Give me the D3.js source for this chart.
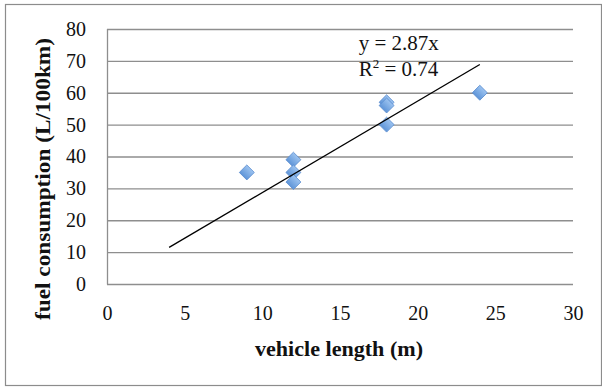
<!DOCTYPE html>
<html>
<head>
<meta charset="utf-8">
<script src="https://cdn.jsdelivr.net/npm/d3@7"></script>
<style>
  body { margin: 0; background: #fff; }
  svg { display: block; }
</style>
</head>
<body>
<div id="chart"></div>
<script>
// vehicle length (m) vs fuel consumption (L/100km)
const lengths = [9, 12, 12, 12, 18, 18, 18, 24];
const fuel = [35, 39, 35, 32, 57, 56, 50, 60];
const xTicks = [0, 5, 10, 15, 20, 25, 30];
const yTicks = [0, 10, 20, 30, 40, 50, 60, 70, 80];
const slope = 2.87;
const trendRange = [4, 24];

const width = 602;
const height = 387;
const margin = { top: 29, right: 29, bottom: 103, left: 107 };
const innerWidth = width - margin.left - margin.right;
const innerHeight = height - margin.top - margin.bottom;

const font = "'Liberation Serif', 'DejaVu Serif', serif";

const svg = d3
  .select("#chart")
  .append("svg")
  .attr("width", width)
  .attr("height", height);

// outer frame
svg
  .append("rect")
  .attr("x", 5.5)
  .attr("y", 4.5)
  .attr("width", 596)
  .attr("height", 381)
  .attr("fill", "#fff")
  .attr("stroke", "#8c8c8c")
  .attr("stroke-width", 1.2);

const xScale = d3.scaleLinear().domain([0, 30]).range([0, innerWidth]);
const yScale = d3.scaleLinear().domain([0, 80]).range([innerHeight, 0]);

const g = svg
  .append("g")
  .attr("transform", `translate(${margin.left},${margin.top})`);

// horizontal gridlines
g.append("g")
  .selectAll("line")
  .data(yTicks)
  .join("line")
  .attr("x1", 0)
  .attr("x2", innerWidth)
  .attr("y1", (d) => yScale(d) + 0.5)
  .attr("y2", (d) => yScale(d) + 0.5)
  .attr("stroke", "#8e8e8e")
  .attr("stroke-width", 1.3);

// left axis line
g.append("line")
  .attr("x1", 0.5)
  .attr("x2", 0.5)
  .attr("y1", 0)
  .attr("y2", innerHeight + 0.5)
  .attr("stroke", "#8e8e8e")
  .attr("stroke-width", 1.3);

const yAxis = d3.axisLeft(yScale).tickValues(yTicks).tickSize(0).tickPadding(21);
const yGroup = g.append("g").call(yAxis);
yGroup.select(".domain").remove();
yGroup
  .selectAll("text")
  .attr("font-family", font)
  .attr("font-size", 20)
  .attr("fill", "#111");

const xAxis = d3.axisBottom(xScale).tickValues(xTicks).tickSize(0).tickPadding(22);
const xGroup = g
  .append("g")
  .attr("transform", `translate(0,${innerHeight})`)
  .call(xAxis);
xGroup.select(".domain").remove();
xGroup
  .selectAll("text")
  .attr("font-family", font)
  .attr("font-size", 20)
  .attr("fill", "#111");

// diamond markers
const defs = svg.append("defs");
const grad = defs
  .append("linearGradient")
  .attr("id", "dia")
  .attr("x1", 0)
  .attr("y1", 0)
  .attr("x2", 0)
  .attr("y2", 1);
grad.append("stop").attr("offset", "0%").attr("stop-color", "#9cc3f0");
grad.append("stop").attr("offset", "100%").attr("stop-color", "#5f95d8");

const points = lengths.map((d, i) => ({ x: d, y: fuel[i] }));

g.append("g")
  .selectAll("path")
  .data(points)
  .join("path")
  .attr("d", d3.symbol(d3.symbolSquare, 112))
  .attr("transform", (d) => `translate(${xScale(d.x)},${yScale(d.y)}) rotate(45)`)
  .attr("fill", "url(#dia)")
  .attr("stroke", "#5a8cd0")
  .attr("stroke-width", 0.8);

// linear trendline through origin
const trend = trendRange.map((x) => [x, slope * x]);
g.append("path")
  .datum(trend)
  .attr("d", d3.line().x((d) => xScale(d[0])).y((d) => yScale(d[1])))
  .attr("fill", "none")
  .attr("stroke", "#000")
  .attr("stroke-width", 1.3);

// equation label
const eq = g
  .append("text")
  .attr("font-family", font)
  .attr("font-size", 21)
  .attr("fill", "#111");
eq.append("tspan").attr("x", xScale(16.2)).attr("y", 21).text("y = 2.87x");
const r2 = eq.append("tspan").attr("x", xScale(16.2)).attr("y", 47);
r2.append("tspan").text("R");
r2.append("tspan").attr("font-size", 13).attr("dy", -8).text("2");
r2.append("tspan").attr("dy", 8).text(" = 0.74");

// axis titles
svg
  .append("text")
  .attr("x", 339)
  .attr("y", 356)
  .attr("text-anchor", "middle")
  .attr("font-family", font)
  .attr("font-size", 21)
  .attr("font-weight", "bold")
  .attr("fill", "#111")
  .attr("textLength", 168)
  .attr("lengthAdjust", "spacingAndGlyphs")
  .text("vehicle length (m)");

svg
  .append("text")
  .attr("transform", "translate(50,179) rotate(-90)")
  .attr("text-anchor", "middle")
  .attr("font-family", font)
  .attr("font-size", 21)
  .attr("font-weight", "bold")
  .attr("fill", "#111")
  .attr("textLength", 282)
  .attr("lengthAdjust", "spacingAndGlyphs")
  .text("fuel consumption (L/100km)");
</script>
</body>
</html>
